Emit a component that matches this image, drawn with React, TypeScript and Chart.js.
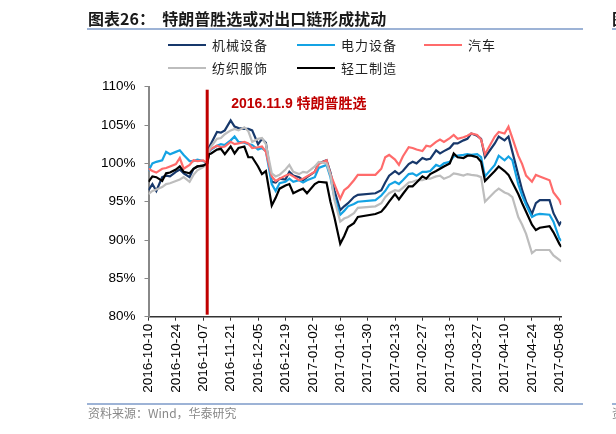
import React, { useEffect, useRef } from 'react';
import { Chart, registerables } from 'chart.js';

Chart.register(...registerables);

// ---- data ----
const dates = [
  '2016-10-10', '2016-10-12', '2016-10-14', '2016-10-17', '2016-10-19', '2016-10-21', '2016-10-24', '2016-10-26', '2016-10-28', '2016-10-31',
  '2016-11-02', '2016-11-04', '2016-11-07', '2016-11-09', '2016-11-10', '2016-11-11', '2016-11-14', '2016-11-16', '2016-11-18', '2016-11-21',
  '2016-11-23', '2016-11-25', '2016-11-28', '2016-11-30', '2016-12-02', '2016-12-05', '2016-12-07', '2016-12-09', '2016-12-12', '2016-12-14',
  '2016-12-16', '2016-12-19', '2016-12-21', '2016-12-23', '2016-12-26', '2016-12-28', '2016-12-30', '2017-01-03', '2017-01-05', '2017-01-09',
  '2017-01-11', '2017-01-13', '2017-01-16', '2017-01-18', '2017-01-20', '2017-01-23', '2017-01-25', '2017-02-03', '2017-02-06', '2017-02-08',
  '2017-02-10', '2017-02-13', '2017-02-15', '2017-02-17', '2017-02-20', '2017-02-22', '2017-02-24', '2017-02-27', '2017-03-01', '2017-03-03',
  '2017-03-06', '2017-03-08', '2017-03-10', '2017-03-13', '2017-03-15', '2017-03-17', '2017-03-20', '2017-03-22', '2017-03-24', '2017-03-27',
  '2017-03-29', '2017-03-31', '2017-04-05', '2017-04-07', '2017-04-10', '2017-04-12', '2017-04-14', '2017-04-17', '2017-04-19', '2017-04-21',
  '2017-04-24', '2017-04-26', '2017-04-28', '2017-05-03', '2017-05-05', '2017-05-08', '2017-05-09',
];

// 机械设备
const jixie = [
  96.5, 97.3, 96.4, 98.2, 98.4, 98.3, 98.9, 99.2, 98.7, 98.2,
  99.3, 99.6, 99.7, 100, 102.1, 102.6, 104.1, 104.0, 104.3, 105.6,
  104.8, 104.6, 104.5, 104.5, 104.3, 102.5, 103.2, 102.7, 97.6, 97.5,
  98.0, 97.9, 98.9, 98.4, 98.2, 97.8, 98.2, 98.9, 100.0, 100.4,
  98.8, 96.5, 93.9, 94.4, 94.8, 95.6, 95.9, 96.1, 96.5, 97.5,
  98.4, 99.0, 98.6, 99.0, 99.9, 100.2, 100.0, 100.7, 100.5, 100.6,
  101.7, 101.3, 101.6, 102.0, 102.6, 102.6, 103.0, 103.2, 103.9, 103.6,
  103.2, 100.8, 102.6, 103.5, 103.0, 103.5, 101.5, 98.5, 96.5, 95.0,
  93.4, 94.8, 95.2, 95.2, 93.5, 92.0, 92.4,
];
// 电力设备
const dianli = [
  99.0, 100.0, 100.2, 100.4, 101.5, 101.2, 101.5, 101.7, 101.1, 100.3,
  100.3, 100.5, 100.3, 100, 101.5, 101.8, 102.3, 102.5, 102.4, 103.0,
  103.5, 102.8, 102.7, 102.5, 102.4, 101.8, 102.0, 101.6, 97.3, 96.4,
  97.4, 97.6, 98.0, 97.6, 97.8, 97.5, 97.8, 98.2, 99.4, 99.8,
  98.2, 95.6, 93.3, 93.8, 94.4, 94.7, 95.0, 95.2, 95.8, 96.4,
  97.2, 97.6, 97.3, 97.8, 98.6, 98.7, 98.4, 98.9, 98.9, 99.0,
  99.8, 99.6, 100.0, 100.2, 100.9, 101.0, 101.1, 101.2, 101.1, 101.2,
  100.8, 98.3, 99.8, 101.0, 100.4, 100.9, 100.4, 97.3, 95.8, 94.6,
  93.0, 93.3, 93.4, 93.3, 92.4, 90.2, 89.9,
];
// 汽车
const qiche = [
  99.3, 99.0, 98.8, 99.3, 99.4, 99.6, 99.9, 100.7, 99.3, 99.8,
  100.4, 100.3, 100.4, 100, 101.6, 101.9, 102.3, 102.1, 102.2, 102.8,
  102.5, 102.6, 102.8, 102.6, 102.0, 102.1, 102.2, 101.5, 98.3, 97.7,
  98.0, 98.4, 98.6, 98.3, 97.8, 98.0, 98.3, 98.9, 99.9, 100.4,
  98.6, 97.3, 95.4, 96.5, 96.9, 97.8, 98.5, 98.5, 99.3, 100.8,
  101.1, 100.5, 99.8, 100.9, 102.1, 102.0, 101.8, 101.6, 102.3, 102.2,
  102.8, 103.1, 102.8, 103.3, 103.7, 103.2, 103.4, 103.6, 103.9, 103.7,
  103.1, 101.2, 103.5, 104.1, 103.9, 104.8, 103.3, 101.0, 99.9, 98.4,
  97.6, 98.5, 98.3, 97.8, 96.2, 95.2, 94.6,
];
// 纺织服饰
const fangzhi = [
  96.0, 96.4, 96.6, 96.9, 97.3, 97.4, 97.7, 97.9, 98.2, 97.6,
  98.5, 99.1, 99.5, 100, 101.8, 102.2, 103.2, 103.3, 103.8, 104.3,
  104.5, 104.3, 104.7, 104.2, 102.8, 103.2, 103.3, 102.5, 98.7, 98.3,
  98.5, 99.2, 99.8, 98.9, 98.6, 98.9, 98.8, 99.6, 100.2, 100.0,
  98.5, 95.3, 92.4, 92.8, 93.0, 93.5, 94.2, 94.4, 94.8, 95.6,
  96.1, 96.5, 96.4, 96.8, 97.5, 97.6, 97.8, 97.8, 98.0, 98.0,
  98.3, 98.4, 98.0, 98.3, 98.7, 98.6, 98.4, 98.6, 98.5, 98.4,
  98.2, 95.0, 96.3, 96.7, 96.2, 96.0, 95.6, 93.0, 92.0, 90.8,
  88.3, 88.7, 88.7, 88.7, 88.0, 87.4, 87.2,
];
// 轻工制造
const qinggong = [
  97.6, 98.3, 98.2, 97.7, 98.7, 98.8, 99.2, 99.6, 98.9, 98.7,
  99.3, 99.6, 99.7, 100, 101.2, 101.3, 101.8, 101.9, 101.2, 102.2,
  101.3, 102.0, 102.2, 100.8, 100.8, 99.6, 98.6, 99.0, 94.5, 95.5,
  96.7, 97.1, 97.3, 96.1, 96.5, 96.7, 96.1, 97.3, 97.6, 97.5,
  95.0, 93.0, 89.5, 90.5, 91.7, 92.2, 93.0, 93.4, 93.7, 94.3,
  95.0, 96.0, 95.3, 96.0, 97.0, 97.0, 97.5, 98.3, 98.0, 98.6,
  99.0, 99.3, 99.6, 100.0, 101.3, 100.8, 100.7, 101.0, 101.0, 100.8,
  100.2, 97.7, 99.0, 99.6, 99.0, 98.5, 97.5, 96.0, 94.8, 93.7,
  92.0, 91.3, 91.6, 91.8, 91.0, 89.5, 89.1,
];

const seriesNames = ['机械设备', '电力设备', '汽车', '纺织服饰', '轻工制造'];
const seriesValues = [jixie, dianli, qiche, fangzhi, qinggong];
const seriesColors = ['#17386b', '#14a3e4', '#ff6b6b', '#bdbdbd', '#000000'];

const xTickLabels = [
  '2016-10-10', '2016-10-24', '2016-11-07', '2016-11-21', '2016-12-05', '2016-12-19', '2017-01-02', '2017-01-16',
  '2017-01-30', '2017-02-13', '2017-02-27', '2017-03-13', '2017-03-27', '2017-04-10', '2017-04-24', '2017-05-08',
];
const yTicks = [80, 85, 90, 95, 100, 105, 110];

const eventDate = '2016-11-09';
const eventLabel = '2016.11.9 特朗普胜选';
const titleText = '图表26：  特朗普胜选或对出口链形成扰动';
const sourceText = '资料来源：Wind，华泰研究';

// ---- helpers ----
const DAY = 86400000;
const t0 = Date.parse(dates[0]);
const toDay = (d: string) => Math.round((Date.parse(d) - t0) / DAY);

const FONT = '"Liberation Sans", Arial, "Noto Sans CJK SC", sans-serif';
const CJK = '"Noto Sans CJK SC", "Liberation Sans", sans-serif';

const eventPlugin = {
  id: 'eventLine',
  afterDatasetsDraw(chart: any) {
    const { ctx, chartArea, scales } = chart;
    const x = scales.x.getPixelForValue(toDay(eventDate));
    ctx.save();
    ctx.strokeStyle = '#c00000';
    ctx.lineWidth = 3;
    ctx.beginPath();
    ctx.moveTo(x, chartArea.top + 3);
    ctx.lineTo(x, chartArea.bottom - 2);
    ctx.stroke();
    ctx.fillStyle = '#c00000';
    ctx.font = 'bold 14px ' + FONT;
    ctx.textBaseline = 'middle';
    ctx.textAlign = 'left';
    ctx.fillText(eventLabel, x + 24, chartArea.top + 17.5);
    ctx.restore();
  },
};

const legendPos = [
  { x: 168, y: 45 },
  { x: 297, y: 45 },
  { x: 424, y: 45 },
  { x: 168, y: 68 },
  { x: 297, y: 68 },
];

export default function App() {
  const canvasRef = useRef<HTMLCanvasElement | null>(null);

  useEffect(() => {
    const canvas = canvasRef.current;
    if (!canvas) return;
    const chart = new Chart(canvas, {
      type: 'line',
      data: {
        datasets: seriesNames.map((name, i) => ({
          label: name,
          data: seriesValues[i].map((v, j) => ({ x: toDay(dates[j]), y: v })),
          borderColor: seriesColors[i],
          backgroundColor: seriesColors[i],
          borderWidth: 2.2,
          pointRadius: 0,
          tension: 0,
          fill: false,
          order: 5 - i,
        })),
      },
      options: {
        responsive: false,
        animation: false,
        devicePixelRatio: 1,
        layout: { padding: { top: 86.7, right: 54.7, left: 0, bottom: 0 } },
        plugins: { legend: { display: false }, tooltip: { enabled: false }, title: { display: false } },
        scales: {
          x: {
            type: 'linear',
            min: 0,
            max: toDay(dates[dates.length - 1]),
            afterBuildTicks: (s: any) => {
              s.ticks = xTickLabels.map((l) => ({ value: toDay(l) }));
            },
            afterFit: (s: any) => {
              s.height = 434 - 316.7;
            },
            ticks: {
              autoSkip: false,
              minRotation: 90,
              maxRotation: 90,
              padding: 3,
              color: '#000',
              font: { family: FONT, size: 13.5 },
              callback: (v: any) => {
                const l = xTickLabels.find((d) => toDay(d) === v);
                return l ?? '';
              },
            },
            grid: { drawOnChartArea: false, drawTicks: true, tickLength: 4, color: '#333', lineWidth: 1 },
            border: { color: '#333', width: 1.5 },
          },
          y: {
            type: 'linear',
            min: 80,
            max: 110,
            afterBuildTicks: (s: any) => {
              s.ticks = yTicks.map((v) => ({ value: v }));
            },
            afterFit: (s: any) => {
              s.width = 148.5;
            },
            ticks: {
              padding: 9,
              color: '#000',
              font: { family: FONT, size: 13.5 },
              callback: (v: any) => v + '%',
            },
            grid: { drawOnChartArea: false, drawTicks: true, tickLength: 4, color: '#888', lineWidth: 1 },
            border: { color: '#888', width: 2 },
          },
        },
      },
      plugins: [eventPlugin],
    } as any);
    return () => chart.destroy();
  }, []);

  return (
    <div style={{ position: 'absolute', left: 0, top: 0, width: 616, height: 434, overflow: 'hidden', background: '#fff' }}>
      <canvas ref={canvasRef} width={616} height={434} style={{ position: 'absolute', left: 0, top: 0, width: 616, height: 434 }} />
      <div style={{ position: 'absolute', left: 88, top: 9, fontFamily: CJK, fontWeight: 700, fontSize: 16, lineHeight: '18px', color: '#1a1a1a', whiteSpace: 'pre' }}>
        {titleText}
      </div>
      <div style={{ position: 'absolute', left: 87, top: 28, width: 496, height: 2, background: '#9db3d6' }} />
      <div style={{ position: 'absolute', left: 612, top: 9, fontFamily: CJK, fontWeight: 700, fontSize: 16, lineHeight: '18px', color: '#1a1a1a' }}>图</div>
      <div style={{ position: 'absolute', left: 612, top: 28, width: 10, height: 2, background: '#9db3d6' }} />
      {seriesNames.map((name, i) => (
        <div key={name} style={{ position: 'absolute', left: legendPos[i].x, top: legendPos[i].y - 9, height: 18, display: 'flex', alignItems: 'center' }}>
          <div style={{ width: 38, height: 2.5, background: seriesColors[i] }} />
          <div style={{ marginLeft: 6, fontFamily: CJK, fontSize: 13, letterSpacing: 1, color: '#222', lineHeight: '18px', whiteSpace: 'nowrap' }}>{name}</div>
        </div>
      ))}
      <div style={{ position: 'absolute', left: 87, top: 403, width: 496, height: 1.5, background: '#9db3d6' }} />
      <div style={{ position: 'absolute', left: 612, top: 403, width: 10, height: 1.5, background: '#9db3d6' }} />
      <div style={{ position: 'absolute', left: 88, top: 405, fontFamily: CJK, fontSize: 12, lineHeight: '16px', color: '#888', whiteSpace: 'nowrap' }}>
        {sourceText}
      </div>
      <div style={{ position: 'absolute', left: 612, top: 405, fontFamily: CJK, fontSize: 12, lineHeight: '16px', color: '#888' }}>资</div>
    </div>
  );
}
